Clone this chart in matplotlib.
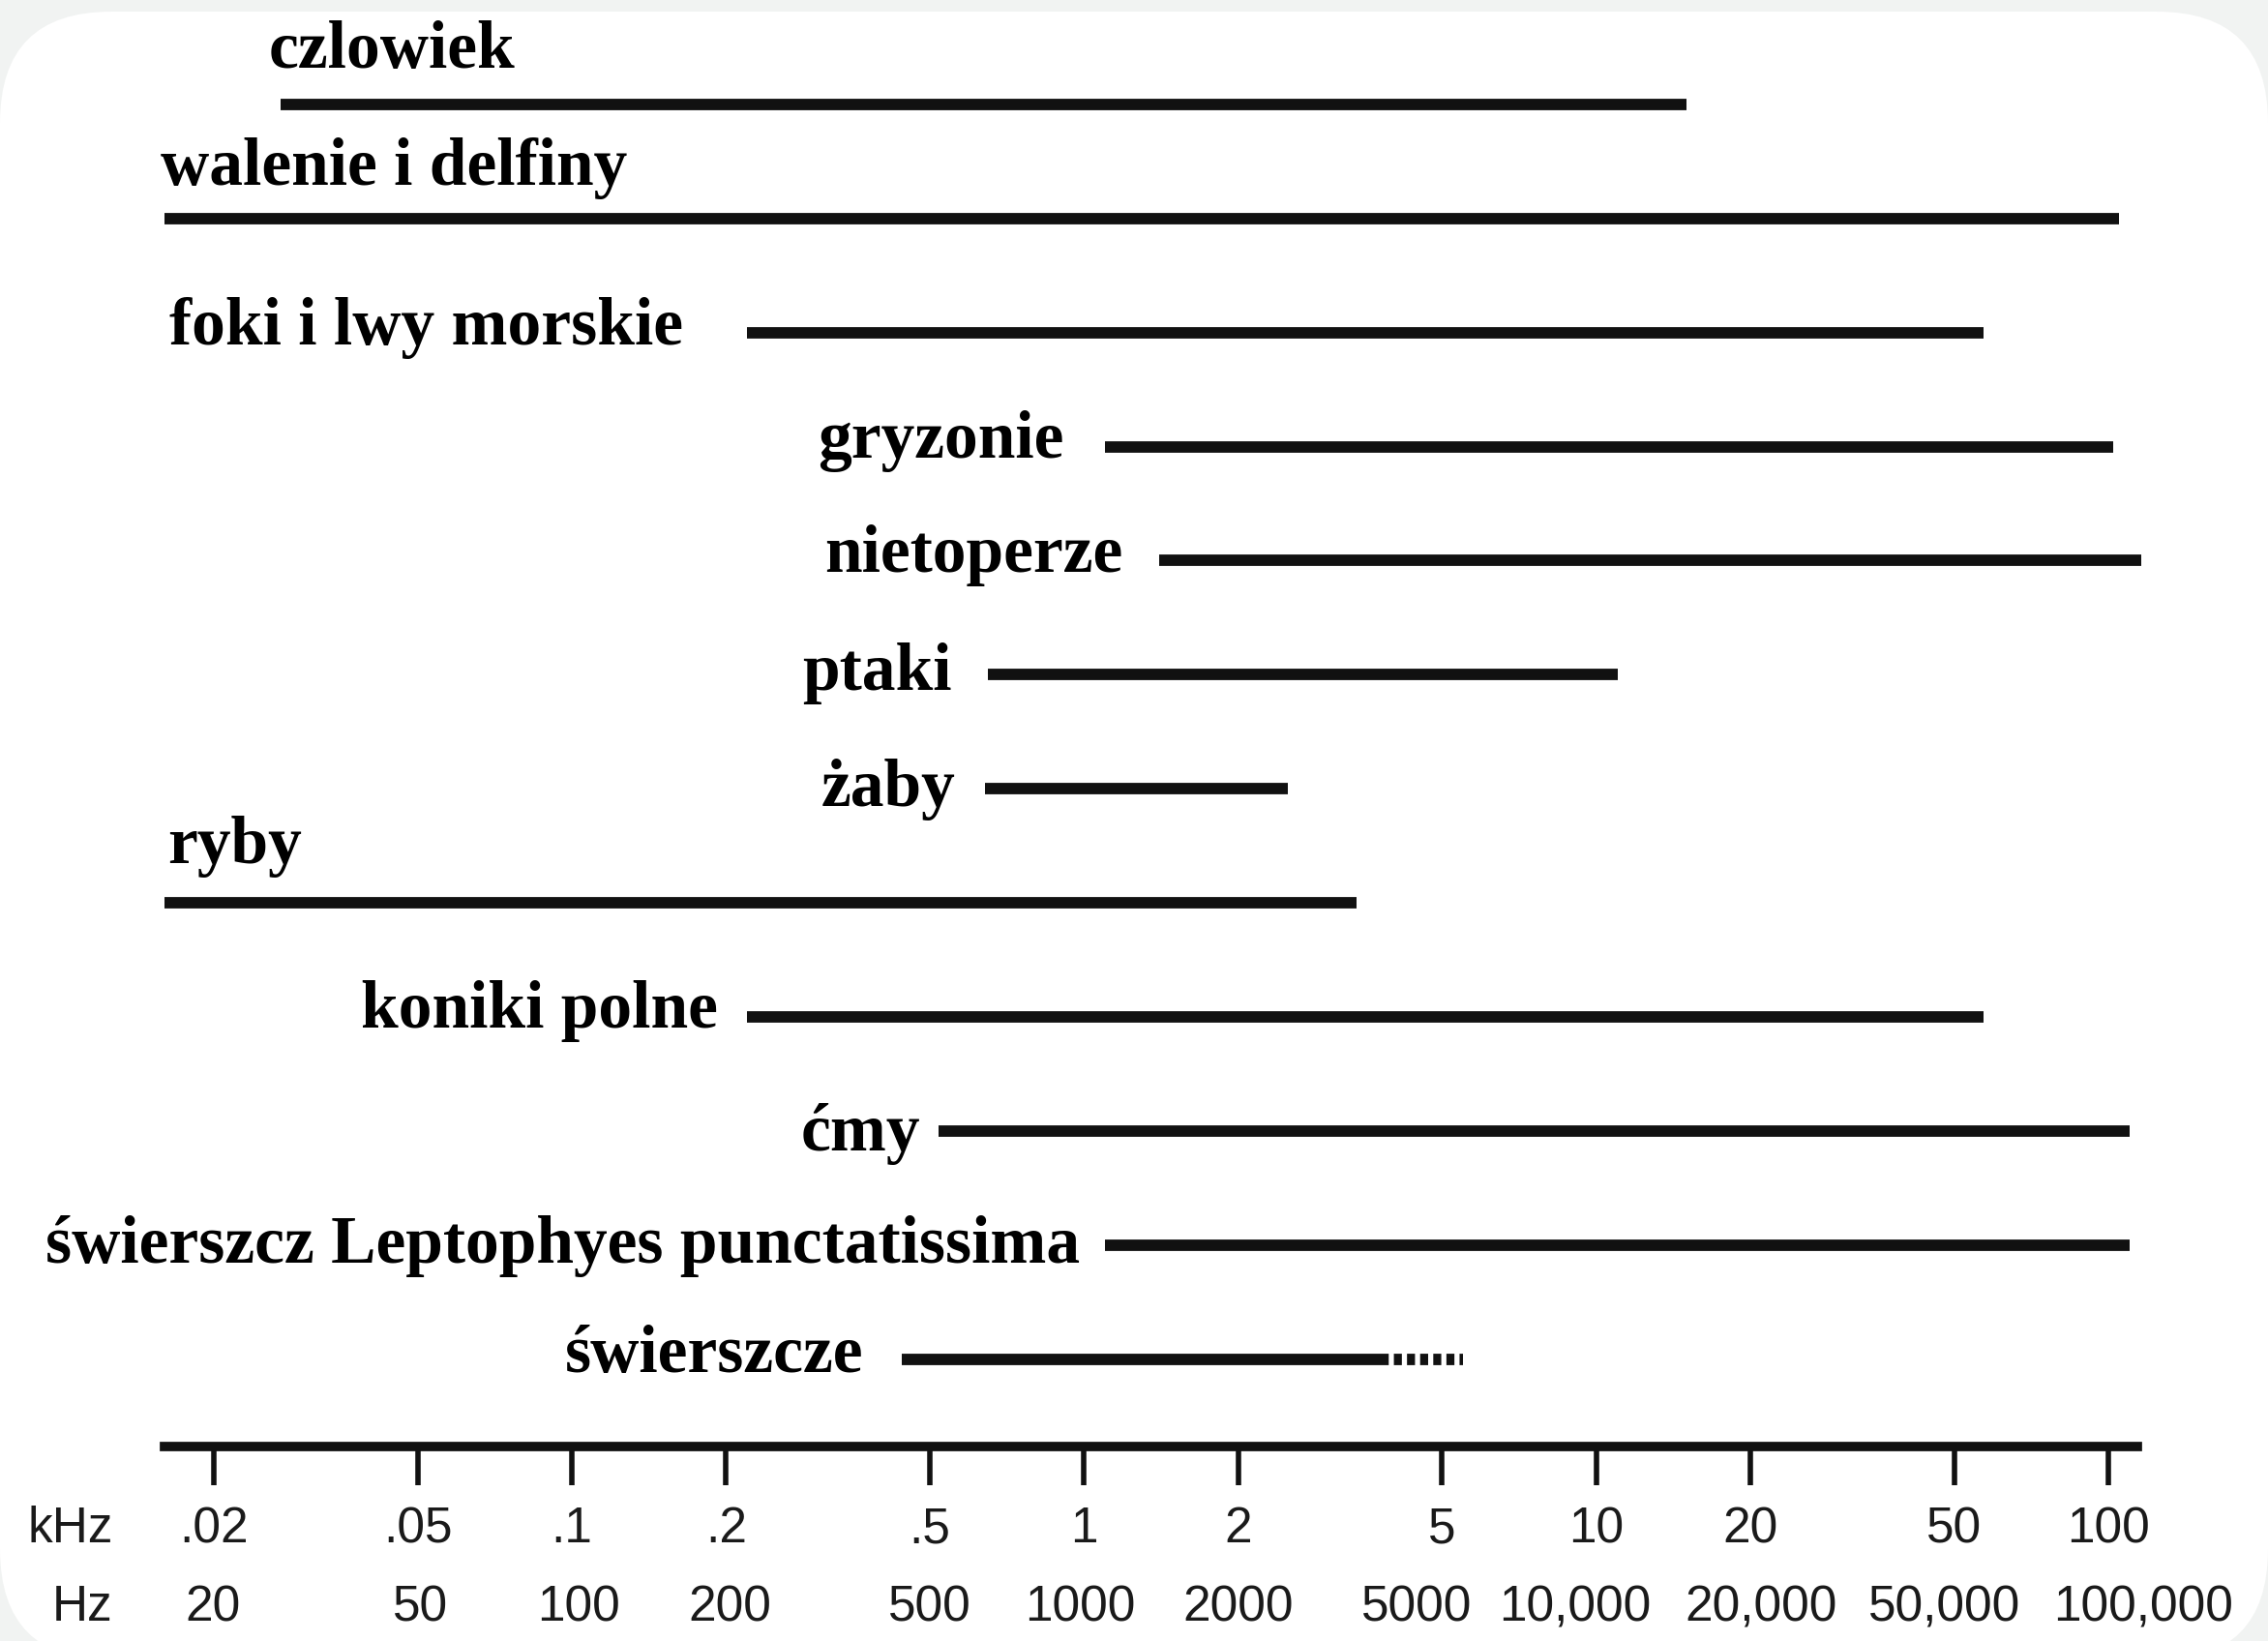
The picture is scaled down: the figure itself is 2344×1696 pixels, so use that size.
import matplotlib.pyplot as plt
from matplotlib.patches import FancyBboxPatch
from matplotlib.ticker import NullLocator

# zakresy słyszenia (Hz)
animals = ["czlowiek", "walenie i delfiny", "foki i lwy morskie", "gryzonie",
           "nietoperze", "ptaki", "żaby", "ryby", "koniki polne", "ćmy",
           "świerszcz Leptophyes punctatissima", "świerszcze"]
low_hz = [27, 16, 220, 1100, 1400, 650, 640, 16, 220, 520, 1100, 440]
high_hz = [15000, 105000, 57000, 102000, 116000, 11000, 2500, 3400, 57000,
           110000, 110000, 3800]
# niepewne przedłużenie (kropki) tylko dla świerszczy
dotted_high = [None] * 11 + [5500]

tick_hz = [20, 50, 100, 200, 500, 1000, 2000, 5000, 10000, 20000, 50000, 100000]
khz_labels = [".02", ".05", ".1", ".2", ".5", "1", "2", "5", "10", "20", "50", "100"]
hz_labels = ["20", "50", "100", "200", "500", "1000", "2000", "5000",
             "10,000", "20,000", "50,000", "100,000"]
# przesunięcie podpisów Hz względem kreski (pt), jak w oryginale
hz_dx = [-1, 2, 5, 3, 0, -3, 0, -19, -16, 8, -7, 26]

# położenie podpisów: nad linią albo z lewej strony (offset w punktach)
label_above = [True, True, False, False, False, False, False, True,
               False, False, False, False]
label_dx = [-9, -3, -48, -31, -27, -27, -22, 2, -22, -14, -19, -28]
label_dy = [27, 25, -9, -8, -8, -11, -13, 30, -8, -14, -13, -9]

LINE = "#111111"
SERIF = ["Liberation Serif", "DejaVu Serif"]
SANS = ["Liberation Sans", "DejaVu Sans"]

fig = plt.figure(figsize=(23.44, 16.96), dpi=100)
fig.patch.set_facecolor("#f1f3f2")
card = FancyBboxPatch((0, -0.2), 23.44, 17.04,
                      boxstyle="round,pad=0,rounding_size=1.15",
                      transform=fig.dpi_scale_trans, facecolor="white",
                      edgecolor="none", zorder=0)
fig.add_artist(card)

ax = fig.add_axes([0, 0, 1, 1])
ax.patch.set_visible(False)
ax.set_xscale("log")
ax.set_xlim(7.64, 205000)
ax.set_ylim(13.464, -0.912)

rows = list(range(len(animals)))
for i in rows:
    ax.plot([low_hz[i], high_hz[i]], [i, i], color=LINE, lw=8.5,
            solid_capstyle="butt")
    if dotted_high[i]:
        ax.plot([high_hz[i], dotted_high[i]], [i, i], color=LINE, lw=8.5,
                linestyle=(0, (0.7, 0.45)), dash_capstyle="butt")
    if label_above[i]:
        ax.annotate(animals[i], xy=(low_hz[i], i),
                    xytext=(label_dx[i], label_dy[i]), textcoords="offset points",
                    ha="left", va="baseline", fontsize=50, family=SERIF,
                    fontweight="bold")
    else:
        ax.annotate(animals[i], xy=(low_hz[i], i),
                    xytext=(label_dx[i], label_dy[i]), textcoords="offset points",
                    ha="right", va="baseline", fontsize=50, family=SERIF,
                    fontweight="bold")

# oś częstotliwości
for s in ["top", "left", "right"]:
    ax.spines[s].set_visible(False)
ax.spines["bottom"].set_position(("data", 11.76))
ax.spines["bottom"].set_bounds(16, 114000)
ax.spines["bottom"].set_linewidth(7)
ax.spines["bottom"].set_color(LINE)
ax.set_xticks(tick_hz)
ax.xaxis.set_minor_locator(NullLocator())
ax.tick_params(axis="x", direction="out", length=29, width=4, color=LINE,
               labelbottom=False)
ax.set_yticks([])

for f, k, h, dx in zip(tick_hz, khz_labels, hz_labels, hz_dx):
    ax.text(f, 12.60, k, ha="center", va="baseline", fontsize=37, family=SANS,
            color="#1a1a1a")
    ax.annotate(h, xy=(f, 13.29), xytext=(dx, 0), textcoords="offset points",
                ha="center", va="baseline", fontsize=37, family=SANS,
                color="#1a1a1a")
ax.text(12.7, 12.60, "kHz", ha="right", va="baseline", fontsize=37, family=SANS,
        color="#1a1a1a")
ax.text(12.7, 13.29, "Hz", ha="right", va="baseline", fontsize=37, family=SANS,
        color="#1a1a1a")

plt.savefig("out.png", dpi=100)
